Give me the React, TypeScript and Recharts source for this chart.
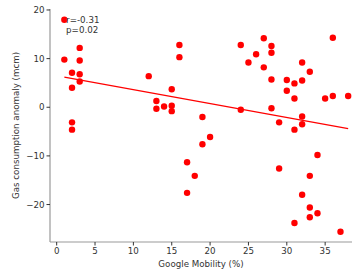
import { ScatterChart, Scatter, XAxis, YAxis, Label, ReferenceDot } from 'recharts'

// Google mobility (%) per day
const mobility = [
  1, 1, 2, 2, 2, 2, 3, 3, 3, 3,
  12, 13, 13, 14, 15, 15, 15, 16, 16, 17,
  17, 18, 19, 19, 20, 24, 24, 25, 26, 27,
  27, 28, 28, 28, 28, 29, 29, 30, 30, 31,
  31, 31, 31, 32, 32, 32, 32, 32, 33, 33,
  33, 33, 34, 34, 35, 36, 36, 37, 38,
]

// gas consumption anomaly (mcm)
const anomaly = [
  18.0, 9.8, 7.1, 4.0, -3.1, -4.6, 12.2, 9.6, 6.8, 5.3,
  6.4, 1.3, -0.3, 0.15, 3.7, 0.3, -0.8, 12.8, 10.3, -11.3,
  -17.6, -14.1, -2.0, -7.6, -6.1, 12.8, -0.5, 9.2, 10.9, 14.2,
  8.2, 12.6, 11.2, 5.7, -0.2, -3.1, -12.6, 5.6, 3.4, 4.9,
  1.8, -4.6, -23.8, 9.2, 5.5, -1.9, -3.5, -18.0, 7.3, -14.1,
  -20.6, -22.6, -9.8, -21.8, 1.8, 14.3, 2.3, -25.6, 2.3,
]

// fitted regression line end points
const fitX = [1, 38]
const fitY = [6.2, -4.4]

const statLines = ['r=-0.31', 'p=0.02']

const points = mobility.map((x, i) => ({ x, y: anomaly[i] }))
const fitLine = fitX.map((x, i) => ({ x, y: fitY[i] }))

const font = 'DejaVu Sans'
const spine = '#999999'
const ink = '#333333'
const xDomain: [number, number] = [-0.87, 38.5]
const yDomain: [number, number] = [-27.7, 20.2]

export default function App() {
  return (
    <div style={{ position: 'absolute', left: 0, top: 0, background: '#fff' }}>
      <ScatterChart width={354} height={277} margin={{ top: 9, right: 2, bottom: 15, left: 0 }}>
        <XAxis
          xAxisId="top"
          orientation="top"
          type="number"
          dataKey="x"
          domain={xDomain}
          height={0}
          tick={false}
          tickLine={false}
          axisLine={{ stroke: spine, strokeWidth: 1.2 }}
        />
        <XAxis
          type="number"
          dataKey="x"
          domain={xDomain}
          ticks={[0, 5, 10, 15, 20, 25, 30, 35]}
          height={20}
          axisLine={{ stroke: spine, strokeWidth: 1.2 }}
          tickLine={{ stroke: ink }}
          tickSize={3.5}
          tick={{ fill: ink, fontSize: 8.7, fontFamily: font }}
          allowDataOverflow
        >
          <Label value="Google Mobility (%)" position="bottom" offset={-1} style={{ fill: ink, fontSize: 8.7, fontFamily: font }} />
        </XAxis>
        <YAxis
          type="number"
          dataKey="y"
          domain={yDomain}
          ticks={[-20, -10, 0, 10, 20]}
          width={50}
          axisLine={{ stroke: spine, strokeWidth: 1.2 }}
          tickLine={{ stroke: ink }}
          tickSize={3.5}
          tick={{ fill: ink, fontSize: 8.7, fontFamily: font }}
          tickFormatter={(v: number) => (v < 0 ? '\u2212' + Math.abs(v) : String(v))}
          allowDataOverflow
        >
          <Label
            content={(props: any) => {
              const vb = props.viewBox || { x: 0, y: 0, height: 0 }
              const cx = 16
              const cy = vb.y + vb.height / 2
              return (
                <text
                  x={cx}
                  y={cy}
                  transform={`rotate(-90 ${cx} ${cy})`}
                  textAnchor="middle"
                  dominantBaseline="central"
                  fill={ink}
                  fontSize={8.7}
                  fontFamily={font}
                >
                  Gas consumption anomaly (mcm)
                </text>
              )
            }}
          />
        </YAxis>
        <Scatter data={points} fill="#ff0000" shape={(p: any) => <circle cx={p.cx} cy={p.cy} r={3.2} fill="#ff0000" />} isAnimationActive={false} />
        <Scatter data={fitLine} line={{ stroke: '#ff0000', strokeWidth: 1.2 }} shape={() => <g />} isAnimationActive={false} />
        <ReferenceDot
          x={1.1}
          y={18}
          r={0}
          stroke="none"
          fill="none"
          label={(p: any) => {
            const vb = p.viewBox || { x: 0, y: 0 }
            return (
              <text x={vb.x + 1} y={vb.y} fill={ink} fontSize={8.7} fontFamily={font}>
                {statLines.map((s, i) => (
                  <tspan key={s} x={vb.x + 1} dy={i === 0 ? 3 : 10.3}>
                    {s}
                  </tspan>
                ))}
              </text>
            )
          }}
        />
      </ScatterChart>
    </div>
  )
}
